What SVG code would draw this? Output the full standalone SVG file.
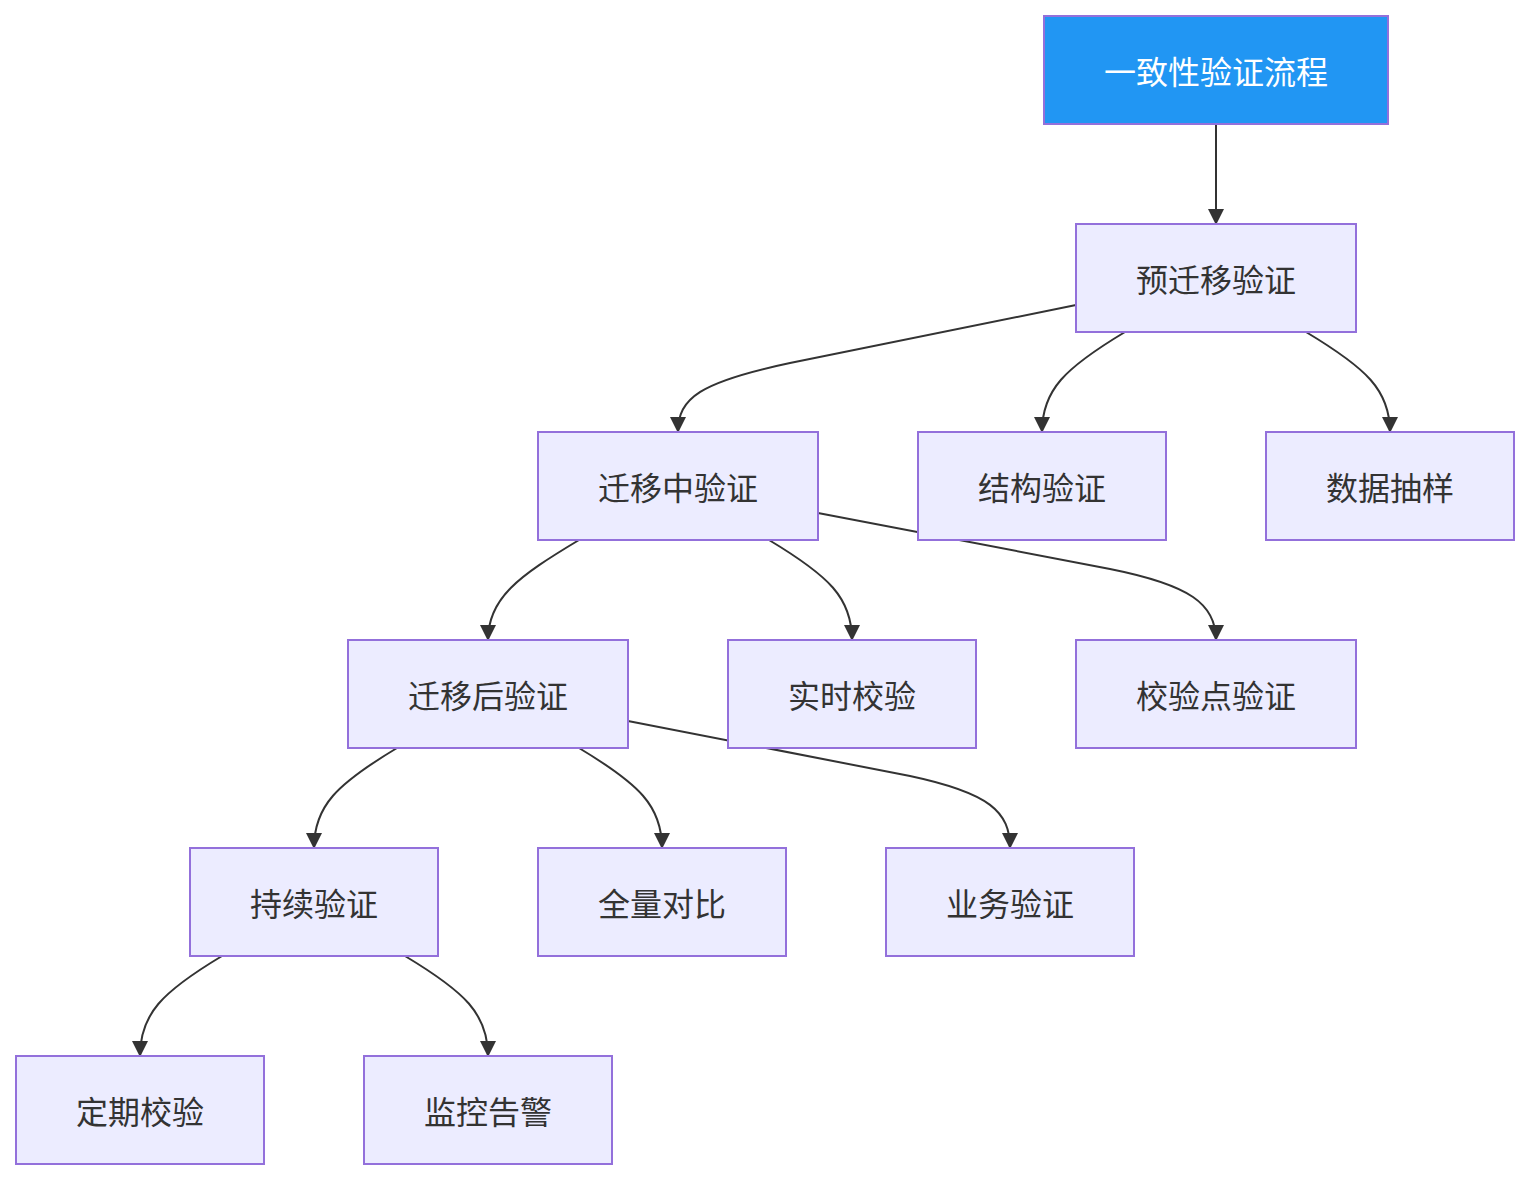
<svg xmlns="http://www.w3.org/2000/svg" width="1530" height="1180" viewBox="0 0 1530 1180">
<style>
.node rect{fill:#ECECFF;stroke:#9370DB;stroke-width:2}
.node text{font-family:"Noto Sans CJK SC","Noto Sans",sans-serif;font-size:32px;fill:#333;text-anchor:middle;dominant-baseline:central}
#root rect{fill:#2196F3}
#root text{fill:#fff}
.edges path{fill:none;stroke:#333;stroke-width:2;marker-end:url(#arr)}
</style>
<defs>
<marker id="arr" markerUnits="userSpaceOnUse" markerWidth="16" markerHeight="16" refX="15" refY="8" orient="auto">
<path d="M0,0 L16,8 L0,16 z" fill="#333"/>
</marker>
</defs>
<rect width="1530" height="1180" fill="#fff"/>
<g class="edges">
<path d="M1216,124 L1216,224"/>
<path d="M1076,305 L790,363 C700,382 678,398 678,432"/>
<path d="M1125,332 C1065,368 1042,390 1042,432"/>
<path d="M1306,332 C1366,368 1390,390 1390,432"/>
<path d="M579,540 C519,576 488,598 488,640"/>
<path d="M769,540 C829,576 852,598 852,640"/>
<path d="M818,513 L1110,569 C1190,585 1216,604 1216,640"/>
<path d="M397,748 C337,784 314,806 314,848"/>
<path d="M579,748 C639,784 662,806 662,848"/>
<path d="M628,721 L910,776 C990,793 1010,812 1010,848"/>
<path d="M222,956 C162,992 140,1014 140,1056"/>
<path d="M405,956 C465,992 488,1014 488,1056"/>
</g>
<g id="root" class="node"><rect x="1044" y="16" width="344" height="108"/><text x="1216" y="70">一致性验证流程</text></g>
<g id="pre" class="node"><rect x="1076" y="224" width="280" height="108"/><text x="1216" y="278">预迁移验证</text></g>
<g id="during" class="node"><rect x="538" y="432" width="280" height="108"/><text x="678" y="486">迁移中验证</text></g>
<g id="struct" class="node"><rect x="918" y="432" width="248" height="108"/><text x="1042" y="486">结构验证</text></g>
<g id="sample" class="node"><rect x="1266" y="432" width="248" height="108"/><text x="1390" y="486">数据抽样</text></g>
<g id="post" class="node"><rect x="348" y="640" width="280" height="108"/><text x="488" y="694">迁移后验证</text></g>
<g id="realtime" class="node"><rect x="728" y="640" width="248" height="108"/><text x="852" y="694">实时校验</text></g>
<g id="checkpoint" class="node"><rect x="1076" y="640" width="280" height="108"/><text x="1216" y="694">校验点验证</text></g>
<g id="continuous" class="node"><rect x="190" y="848" width="248" height="108"/><text x="314" y="902">持续验证</text></g>
<g id="full" class="node"><rect x="538" y="848" width="248" height="108"/><text x="662" y="902">全量对比</text></g>
<g id="business" class="node"><rect x="886" y="848" width="248" height="108"/><text x="1010" y="902">业务验证</text></g>
<g id="periodic" class="node"><rect x="16" y="1056" width="248" height="108"/><text x="140" y="1110">定期校验</text></g>
<g id="monitor" class="node"><rect x="364" y="1056" width="248" height="108"/><text x="488" y="1110">监控告警</text></g>
</svg>
